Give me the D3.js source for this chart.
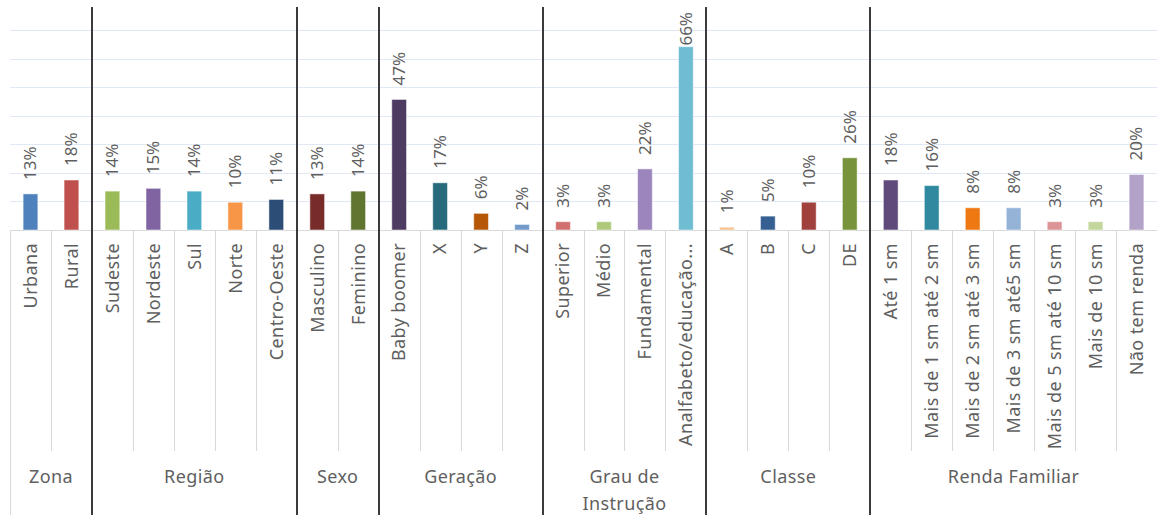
<!DOCTYPE html>
<html>
<head>
<meta charset="utf-8">
<script src="https://cdn.jsdelivr.net/npm/d3@7"></script>
<style>
  body { margin: 0; background: #fff; }
  svg { display: block; font-family: 'Noto Sans', 'Open Sans', sans-serif; }
</style>
</head>
<body>
<svg width="1157" height="515"></svg>
<script>
let width = 1157;
let height = 515;

let groups = ['Zona', 'Região', 'Sexo', 'Geração', 'Grau de|Instrução', 'Classe', 'Renda Familiar'];

let categories = [
  ['Urbana', 'Rural'],
  ['Sudeste', 'Nordeste', 'Sul', 'Norte', 'Centro-Oeste'],
  ['Masculino', 'Feminino'],
  ['Baby boomer', 'X', 'Y', 'Z'],
  ['Superior', 'Médio', 'Fundamental', 'Analfabeto/educação...'],
  ['A', 'B', 'C', 'DE'],
  ['Até 1 sm', 'Mais de 1 sm até 2 sm', 'Mais de 2 sm até 3 sm', 'Mais de 3 sm até5 sm',
   'Mais de 5 sm até 10 sm', 'Mais de 10 sm', 'Não tem renda'],
];

let values = [
  [13, 18],
  [14, 15, 14, 10, 11],
  [13, 14],
  [47, 17, 6, 2],
  [3, 3, 22, 66],
  [1, 5, 10, 26],
  [18, 16, 8, 8, 3, 3, 20],
];

let colors = [
  ['#4f81bd', '#c0504d'],
  ['#9bbb59', '#8064a2', '#4bacc6', '#f79646', '#2c4d75'],
  ['#772c2a', '#5f7530'],
  ['#4d3b62', '#276a7c', '#b65708', '#729aca'],
  ['#d16f6e', '#afc97a', '#9c85bc', '#6fbdd2'],
  ['#fac08f', '#376092', '#a0413e', '#77933c'],
  ['#604a7b', '#31899f', '#ee7913', '#95b3d7', '#dd9497', '#c3d69b', '#b3a2c7'],
];

// flatten into rows
let rows = [];
groups.forEach((g, gi) => {
  categories[gi].forEach((c, ci) => {
    rows.push({ id: gi + '-' + ci, group: gi, name: c, value: values[gi][ci] / 100, color: colors[gi][ci] });
  });
});

let base = 230;
let yMax = 0.72;

let svg = d3.select('svg').attr('width', width).attr('height', height);

let x = d3.scaleBand().domain(rows.map((d) => d.id)).range([10, 1157]).padding(0);
let y = d3.scaleLinear().domain([0, yMax]).range([base, 30]);

let cell = x.bandwidth();
let barW = cell * 0.36;

// gridlines
let gridVals = d3.range(1, 8).map((i) => (i * yMax) / 7);
svg
  .selectAll('line.grid')
  .data(gridVals)
  .enter()
  .append('line')
  .attr('class', 'grid')
  .attr('x1', 10)
  .attr('x2', width)
  .attr('y1', (d) => Math.round(y(d)) + 0.5)
  .attr('y2', (d) => Math.round(y(d)) + 0.5)
  .attr('stroke', '#e1e8f5')
  .attr('stroke-width', 1);

// baseline
svg
  .append('line')
  .attr('x1', 10)
  .attr('x2', width)
  .attr('y1', base + 0.5)
  .attr('y2', base + 0.5)
  .attr('stroke', '#d9d9d9');

// left edge of category axis
svg
  .append('line')
  .attr('x1', 10.5)
  .attr('x2', 10.5)
  .attr('y1', base)
  .attr('y2', height)
  .attr('stroke', '#d9d9d9');

// light dividers between categories inside a group
let inner = rows.filter((d, i) => i > 0 && rows[i - 1].group === d.group);
svg
  .selectAll('line.tick')
  .data(inner)
  .enter()
  .append('line')
  .attr('class', 'tick')
  .attr('x1', (d) => Math.round(x(d.id)) + 0.5)
  .attr('x2', (d) => Math.round(x(d.id)) + 0.5)
  .attr('y1', base)
  .attr('y2', 451)
  .attr('stroke', '#d9d9d9');

// bars
svg
  .selectAll('rect.bar')
  .data(rows)
  .enter()
  .append('rect')
  .attr('class', 'bar')
  .attr('x', (d) => x(d.id) + (cell - barW) / 2)
  .attr('width', barW)
  .attr('y', (d) => y(d.value))
  .attr('height', (d) => base - y(d.value))
  .attr('fill', (d) => d.color)
  .attr('stroke', '#ffffff')
  .attr('stroke-opacity', 0.5)
  .attr('stroke-width', 1);

// value labels
svg
  .selectAll('text.val')
  .data(rows)
  .enter()
  .append('text')
  .attr('class', 'val')
  .attr('font-size', 17)
  .attr('fill', '#5f5f5f')
  .attr('dy', '0.35em')
  .text((d) => Math.round(d.value * 100) + '%')
  .attr('transform', function (d) {
    let len = this.getComputedTextLength();
    let yy = Math.max(y(d.value) - 14, 12 + len);
    return 'translate(' + (x(d.id) + cell / 2) + ',' + yy + ') rotate(-90)';
  });

// category labels
svg
  .selectAll('text.cat')
  .data(rows)
  .enter()
  .append('text')
  .attr('class', 'cat')
  .attr('font-size', 18)
  .attr('letter-spacing', 0.4)
  .attr('fill', '#5f5f5f')
  .attr('text-anchor', 'end')
  .attr('dy', '0.35em')
  .attr('transform', (d) => 'translate(' + (x(d.id) + cell / 2) + ',243) rotate(-90)')
  .text((d) => d.name);

// group labels and thick dividers
let groupInfo = groups.map((g, gi) => {
  let r = rows.filter((d) => d.group === gi);
  let x0 = x(r[0].id);
  let x1 = x(r[r.length - 1].id) + cell;
  return { label: g, x0: x0, x1: x1 };
});

let gl = svg
  .selectAll('text.grp')
  .data(groupInfo)
  .enter()
  .append('text')
  .attr('class', 'grp')
  .attr('font-size', 18)
  .attr('letter-spacing', 0.4)
  .attr('fill', '#5f5f5f')
  .attr('text-anchor', 'middle')
  .attr('x', (d) => (d.x0 + d.x1) / 2)
  .attr('y', 483);

gl.selectAll('tspan')
  .data((d) => d.label.split('|').map((t) => ({ t: t, cx: (d.x0 + d.x1) / 2 })))
  .enter()
  .append('tspan')
  .attr('x', (d) => d.cx)
  .attr('dy', (d, i) => (i === 0 ? 0 : 27))
  .text((d) => d.t);

svg
  .selectAll('line.sep')
  .data(groupInfo.slice(1))
  .enter()
  .append('line')
  .attr('class', 'sep')
  .attr('x1', (d) => Math.round(d.x0))
  .attr('x2', (d) => Math.round(d.x0))
  .attr('y1', 7)
  .attr('y2', height)
  .attr('stroke', '#3a3a3a')
  .attr('stroke-width', 2);
</script>
</body>
</html>
